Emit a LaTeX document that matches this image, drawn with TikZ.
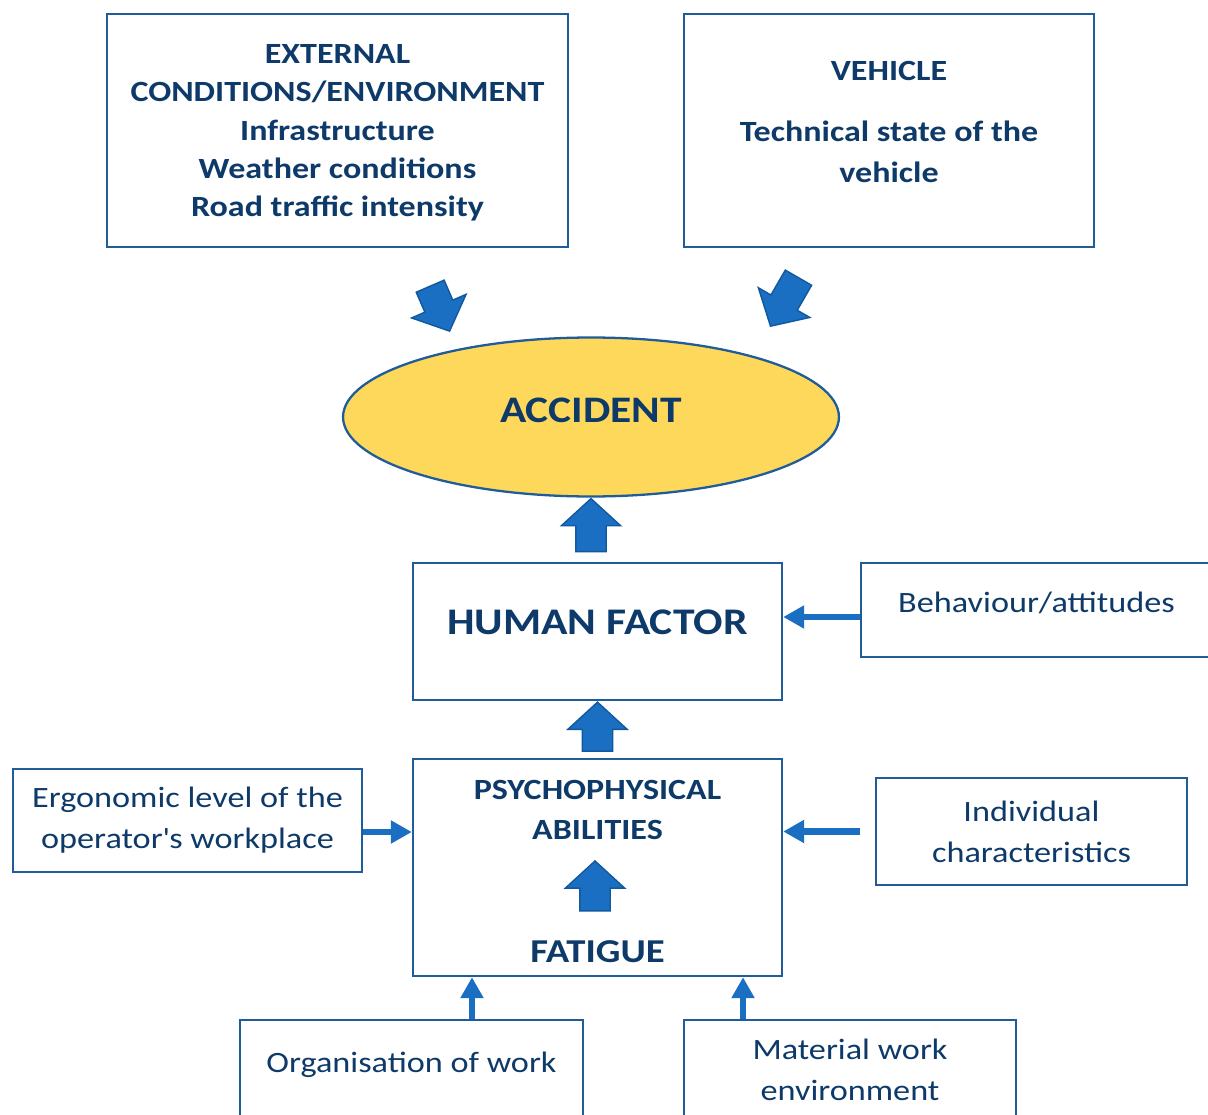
\documentclass[tikz,border=0pt]{standalone}
\usepackage{fontspec}
\setmainfont{Carlito}[FakeStretch=1.16]
\usetikzlibrary{shapes.geometric,shapes.arrows,arrows.meta,calc}
\definecolor{navy}{HTML}{0E3A69}
\definecolor{boxline}{HTML}{1F5C99}
\definecolor{arrfill}{HTML}{1B6FC3}
\definecolor{arrline}{HTML}{11589E}
\definecolor{accfill}{HTML}{FDD85B}
\tikzset{%
box/.style={draw=boxline,line width=1.4pt,text=navy,align=center,inner sep=0pt},
hd/.style={font=\fontsize{16.7}{21.9}\selectfont\bfseries},
txt/.style={font=\fontsize{16.8}{23.2}\selectfont},
blk/.style={single arrow,fill=arrfill,draw=arrline,line width=0.8pt,inner xsep=0pt,
            inner ysep=0.29cm,single arrow head extend=0.29cm,single arrow tip angle=95},
thin/.style={draw=arrfill,line width=0.13cm,-{Triangle[length=0.42cm,width=0.44cm]}}
}

\begin{document}
\begin{tikzpicture}[x=0.02cm,y=-0.02cm]
\useasboundingbox (0,0) rectangle (1208,1115);
\clip (0,0) rectangle (1208,1115);
%%
\node[box,hd,minimum width=9.22cm,minimum height=4.66cm,text depth=0cm] (ext) at (337.5,130.5)
     {EXTERNAL\\CONDITIONS/ENVIRONMENT\\Infrastructure\\Weather conditions\\Road traffic intensity};
\node[box,hd,minimum width=8.2cm,minimum height=4.66cm,text depth=0.36cm] (veh) at (889,130.5)
     {VEHICLE\\[0.46cm]Technical state of the\\[0.04cm]vehicle};
%%
\node[ellipse,draw=boxline,fill=accfill,line width=1.3pt,inner sep=0pt,
      minimum width=9.92cm,minimum height=3.18cm,text=navy,
      font=\fontsize{21.3}{25}\selectfont\bfseries,text height=0.5cm,text depth=0.3cm] (acc) at (591,417) {ACCIDENT};
%%
\node[box,minimum width=7.38cm,minimum height=2.74cm,font=\fontsize{21.4}{25}\selectfont\bfseries,
      text height=0.5cm,text depth=0.4cm] (human) at (597.5,631.5) {HUMAN FACTOR};
\node[box,txt,minimum width=7.02cm,minimum height=1.88cm,text height=0.4cm,text depth=0.32cm]
     (behav) at (1036.5,610) {Behaviour/attitudes};
%%
\node[box,minimum width=7.38cm,minimum height=4.34cm] (psycho) at (597.5,867.5) {};
\node[text=navy,align=center,font=\fontsize{16.7}{22.7}\selectfont\bfseries] (psyab) at (597.5,810)
     {PSYCHOPHYSICAL\\ABILITIES};
\node[text=navy,font=\fontsize{19}{22}\selectfont\bfseries] (fatigue) at (597.5,952) {FATIGUE};
%%
\node[box,txt,minimum width=6.98cm,minimum height=2.06cm] (ergo) at (187.5,820.5)
     {Ergonomic level of the\\operator\textquotesingle s workplace};
\node[box,txt,minimum width=6.22cm,minimum height=2.14cm] (indiv) at (1031.5,831.5)
     {Individual\\characteristics};
\node[box,txt,anchor=north,minimum width=6.86cm,text height=1.04cm,text depth=1.6cm] (org) at (411.5,1019)
     {Organisation of work};
\node[box,txt,anchor=north,minimum width=6.64cm,minimum height=2cm] (mat) at (850,1019)
     {Material work\\environment};
%%%%%%%%%%%%%%
%% block arrows
\node[blk,rotate=-66.6,anchor=tip,minimum height=0.98cm] (inext) at (450,332) {};
\node[blk,rotate=-120,anchor=tip,minimum height=1.12cm] (inveh) at (770,327) {};
\node[blk,rotate=90,anchor=tip,minimum height=1.06cm] (uphum) at (acc.south) {};
\node[blk,rotate=90,anchor=tip,minimum height=0.98cm] (uppsy) at (human.south) {};
\node[blk,rotate=90,anchor=tip,minimum height=1.0cm] (upfat) at (595,860) {};
%%
\coordinate (bh) at ([yshift=-0.14cm]behav.west);
\coordinate (ep) at ([yshift=-0.23cm]ergo.east);
\coordinate (ip) at ([xshift=-0.3cm]indiv.west);
\coordinate (op) at ([xshift=1.21cm]org.north);
\coordinate (mp) at ([xshift=-2.14cm]mat.north);
\draw[thin] (bh) -- (bh -| human.east);
\draw[thin] (ep) -- (ep -| psycho.west);
\draw[thin] (ip) -- (ip -| psycho.east);
\draw[thin] (op) -- (op |- psycho.south);
\draw[thin] (mp) -- (mp |- psycho.south);
\end{tikzpicture}
\end{document}
